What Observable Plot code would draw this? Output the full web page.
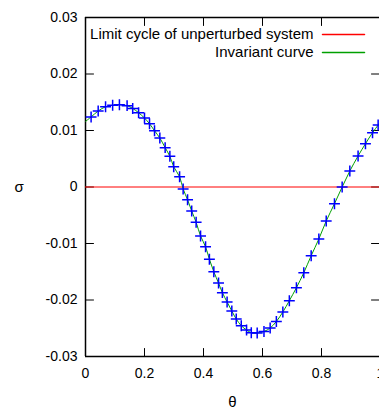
<!DOCTYPE html>
<html>
<head>
<meta charset="utf-8">
<script src="https://cdn.jsdelivr.net/npm/d3@7"></script>
<script src="https://cdn.jsdelivr.net/npm/@observablehq/plot@0.6"></script>
<style>
  html, body { margin: 0; padding: 0; background: #fff; }
</style>
</head>
<body>
<div id="chart"></div>
<script>
// Data
const theta = [0.019,0.043,0.068,0.092,0.115,0.141,0.160,0.180,0.200,0.217,0.234,0.252,0.270,0.286,0.299,0.319,0.331,0.346,0.360,0.375,0.390,0.407,0.420,0.435,0.451,0.464,0.480,0.496,0.511,0.528,0.546,0.562,0.582,0.605,0.626,0.647,0.669,0.691,0.715,0.740,0.765,0.791,0.816,0.844,0.870,0.896,0.924,0.949,0.973,0.992];
const sigma = [0.0124,0.01345,0.0142,0.01446,0.01457,0.0144,0.0139,0.01315,0.0122,0.0112,0.00996,0.00867,0.00696,0.00543,0.00358,0.00182,-0.00035,-0.00225,-0.00425,-0.00625,-0.00867,-0.01057,-0.0128,-0.0150,-0.0170,-0.0187,-0.02035,-0.02195,-0.02336,-0.02455,-0.0253,-0.0258,-0.02584,-0.02557,-0.02496,-0.0238,-0.02212,-0.02012,-0.01782,-0.01517,-0.01216,-0.0092,-0.00602,-0.00296,0,0.00283,0.00549,0.00766,0.00961,0.01097];
const curveTheta = [0, ...theta, 1];
const curveSigma = [0.0116, ...sigma, 0.0116];
const limitCycleSigma = 0;
const xTicks = [0, 0.2, 0.4, 0.6, 0.8, 1];
const yTicks = [-0.03, -0.02, -0.01, 0, 0.01, 0.02, 0.03];
const legendLabels = ["Limit cycle of unperturbed system", "Invariant curve"];
const legendColors = ["#ff0000", "#00a000"];

const points = theta.map((t, i) => ({t, s: sigma[i]}));
const curve = curveTheta.map((t, i) => ({t, s: curveSigma[i]}));

const tickShape = { draw(ctx, l) { ctx.moveTo(0, 0); ctx.lineTo(0, -l); } };
const innerX = xTicks.filter(d => d > 0 && d < 1);
const fmtY = d => d === 0 ? "0" : d.toFixed(2).replace("\u2212", "-");
const fmtX = d => d === 0 ? "0" : d === 1 ? "1" : String(d);

const legendMarks = legendLabels.flatMap((label, i) => [
  Plot.text([label], { frameAnchor: "top-right", text: d => d, dx: -66, dy: 17 + 18 * i, textAnchor: "end", lineAnchor: "middle", fontSize: 15 }),
  Plot.vector([label], { frameAnchor: "top-right", dx: -57, dy: 17 + 18 * i, length: 42, rotate: 90, anchor: "start", shape: tickShape, stroke: legendColors[i], strokeWidth: 1.5 })
]);

const chart = Plot.plot({
  width: 379,
  height: 412,
  marginLeft: 85,
  marginRight: 0,
  marginTop: 17,
  marginBottom: 56,
  style: { fontFamily: "'Liberation Sans', Arial, sans-serif", fontSize: "14px", background: "#fff", color: "#000" },
  x: { domain: [0, 1], range: [85, 380] },
  y: { domain: [-0.03, 0.03] },
  marks: [
    Plot.axisX({ ticks: xTicks, tickFormat: fmtX, tickSize: 0, tickPadding: 12, label: null, fontSize: 14 }),
    Plot.axisY({ ticks: yTicks, tickFormat: fmtY, tickSize: 0, tickPadding: 8, label: null, fontSize: 14 }),
    // inward ticks
    Plot.vector(innerX, { x: d => d, frameAnchor: "bottom", length: 8, rotate: 0, anchor: "start", shape: tickShape, stroke: "#000", strokeWidth: 1 }),
    Plot.vector(innerX, { x: d => d, frameAnchor: "top", length: 8, rotate: 180, anchor: "start", shape: tickShape, stroke: "#000", strokeWidth: 1 }),
    Plot.vector(yTicks, { y: d => d, frameAnchor: "left", length: 8, rotate: 90, anchor: "start", shape: tickShape, stroke: "#000", strokeWidth: 1 }),
    Plot.vector(yTicks, { y: d => d, frameAnchor: "right", length: 8, rotate: -90, anchor: "start", shape: tickShape, stroke: "#000", strokeWidth: 1 }),
    // frame
    Plot.ruleX([0], { stroke: "#000", strokeWidth: 1.5 }),
    Plot.ruleY([-0.03, 0.03], { stroke: "#000", strokeWidth: 1.5 }),
    // data
    Plot.ruleY([limitCycleSigma], { stroke: legendColors[0], strokeWidth: 1 }),
    Plot.line(curve, { x: "t", y: "s", stroke: legendColors[1], strokeWidth: 1, curve: "catmull-rom" }),
    Plot.dot(points, { x: "t", y: "s", symbol: "plus", r: 3.6, stroke: "#0000ff", strokeWidth: 1.5 }),
    // axis labels
    Plot.text(["σ"], { frameAnchor: "left", dx: -71, text: d => d, fontSize: 15 }),
    Plot.text(["θ"], { frameAnchor: "bottom", dy: 50, text: d => d, fontSize: 15 }),
    // legend
    ...legendMarks
  ]
});
document.getElementById("chart").appendChild(chart);
</script>
</body>
</html>
